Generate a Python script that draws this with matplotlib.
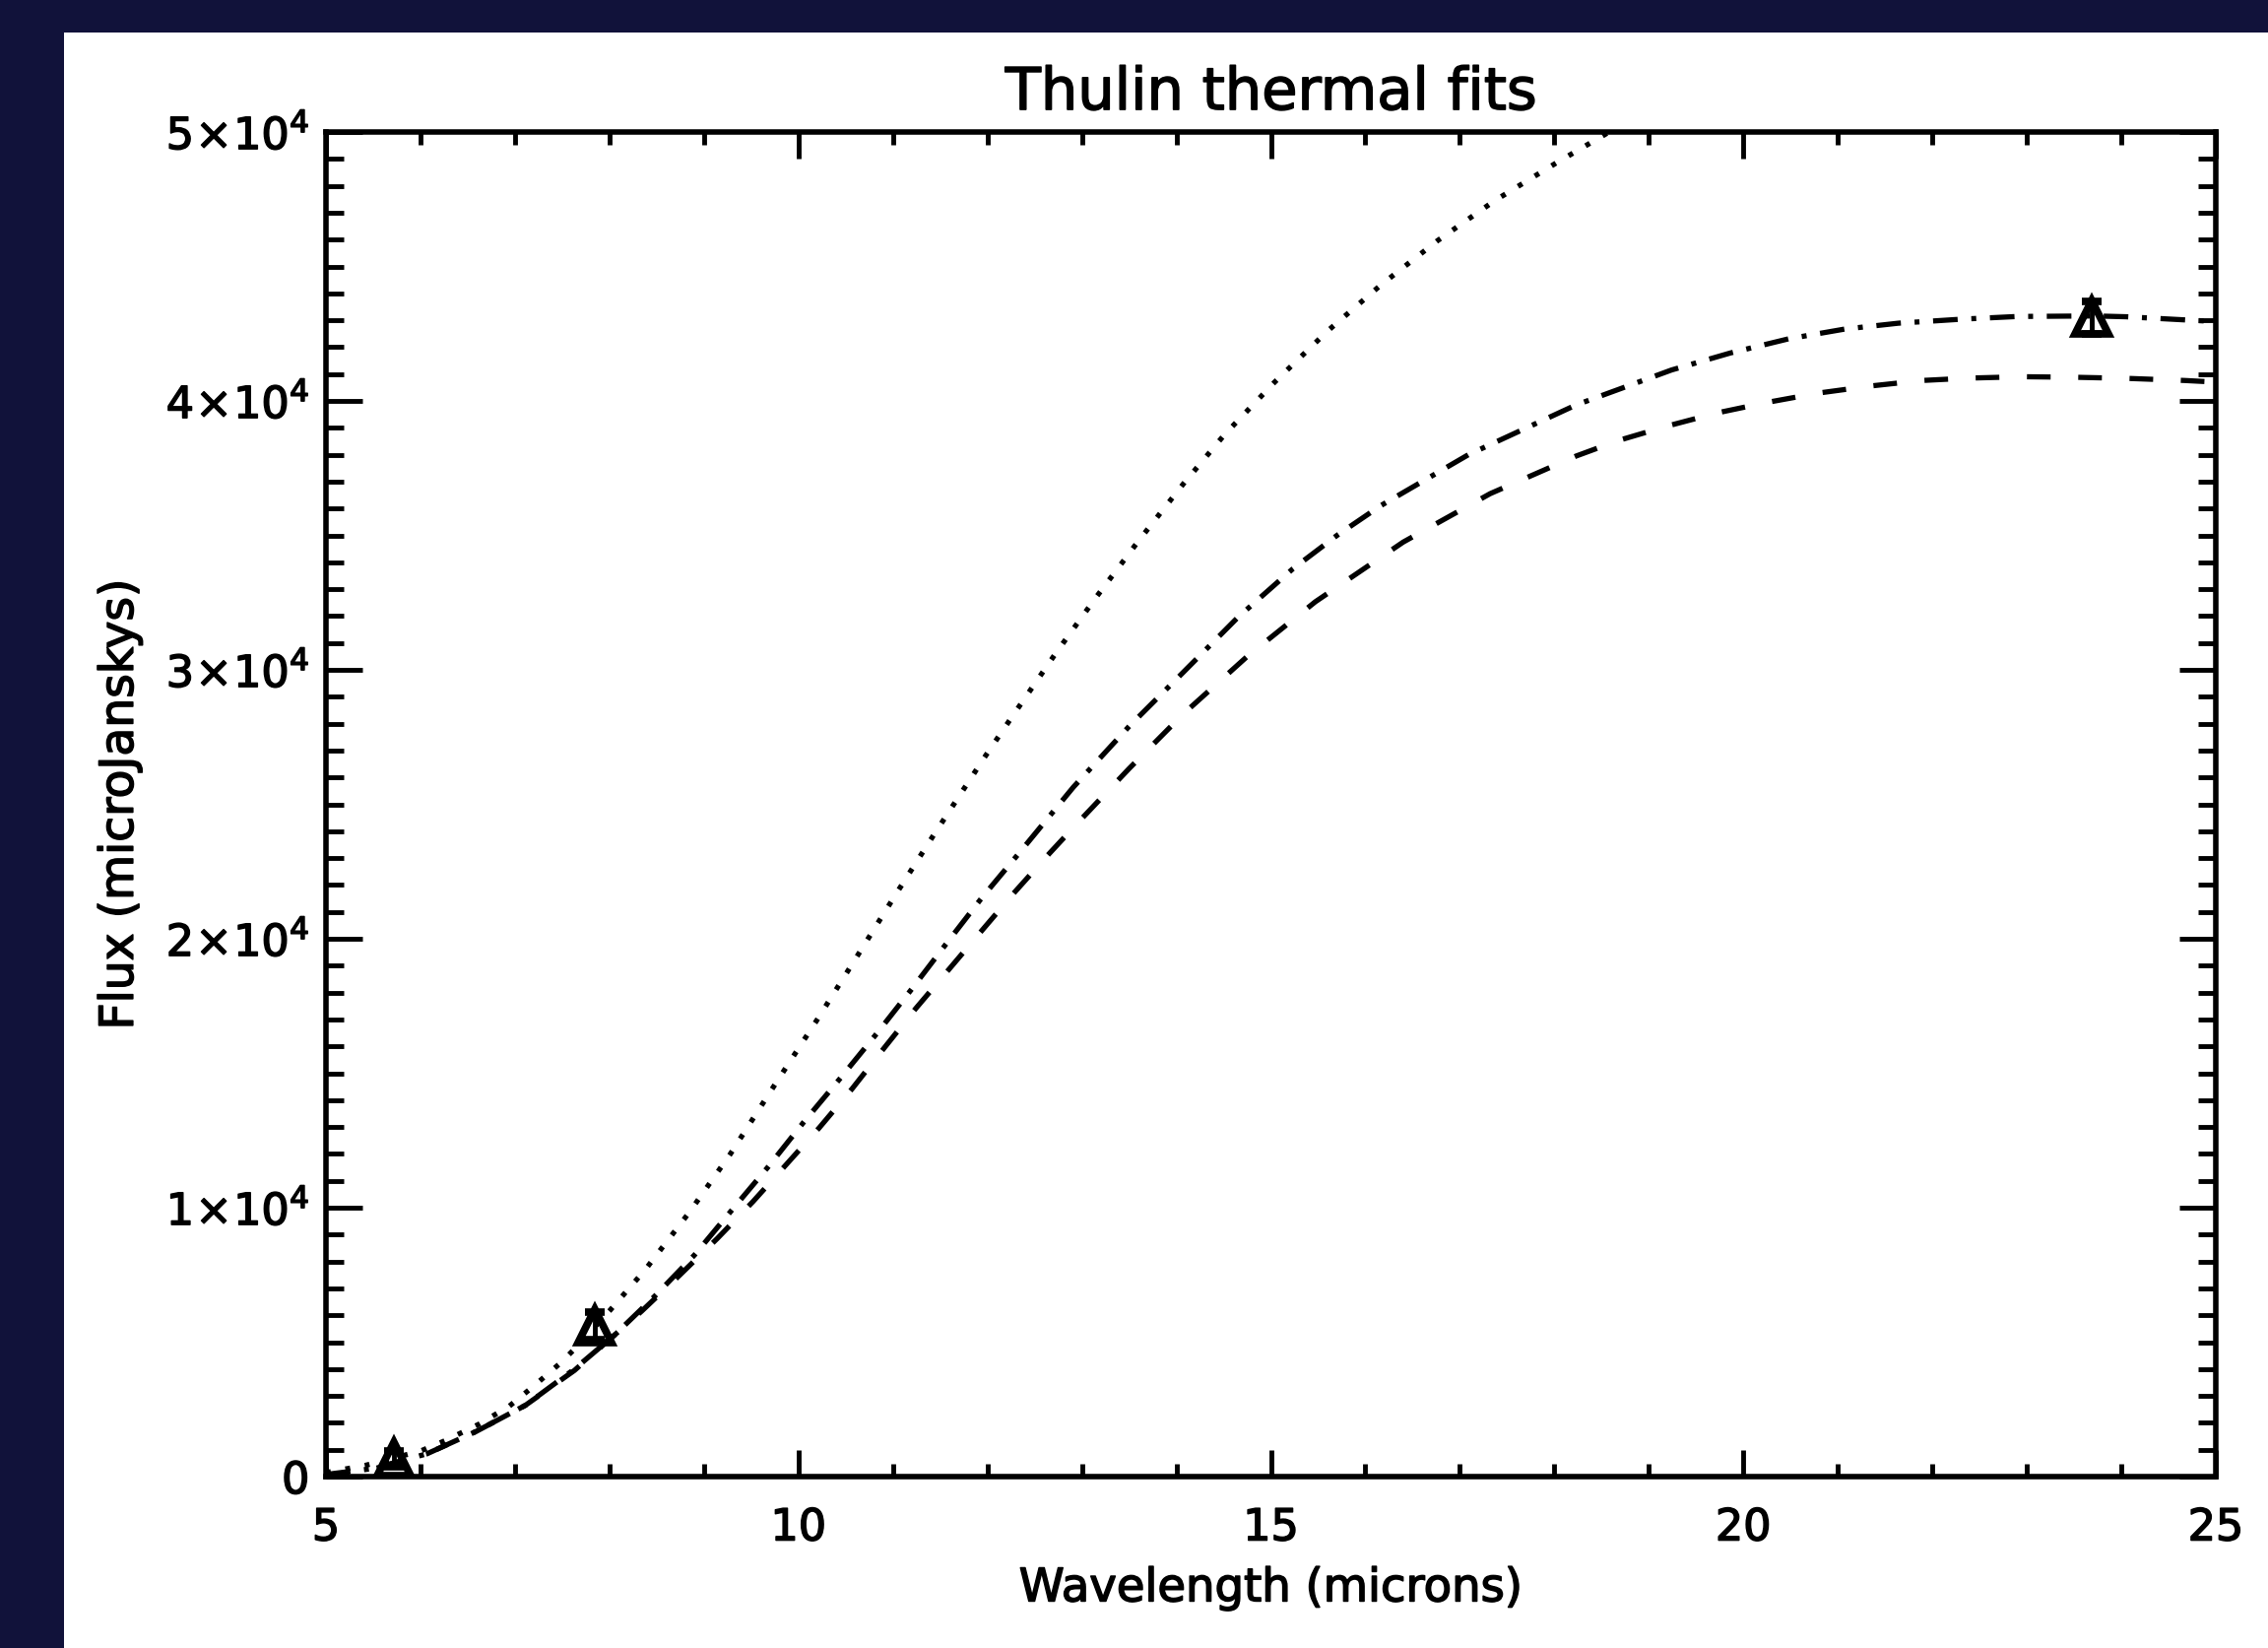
import matplotlib
matplotlib.use("Agg")
import matplotlib.pyplot as plt
import matplotlib.patheffects as pe
from matplotlib.patches import Rectangle
from matplotlib.ticker import MultipleLocator

plt.rcParams['font.family'] = ['DejaVu Sans']
plt.rcParams['mathtext.fontset'] = 'dejavusans'
plt.rcParams['lines.scale_dashes'] = False

# ---------------- data ----------------
title = "Thulin thermal fits"
xlabel = "Wavelength (microns)"
ylabel = "Flux (microJanskys)"

xtick_vals = [5, 10, 15, 20, 25]
xtick_labels = ["5", "10", "15", "20", "25"]
ytick_vals = [0, 10000, 20000, 30000, 40000, 50000]
ytick_labels = ["0", r"$1\!\times\!10^4$", r"$2\!\times\!10^4$", r"$3\!\times\!10^4$",
                r"$4\!\times\!10^4$", r"$5\!\times\!10^4$"]

# dotted fit
dot_x = [5.0, 5.42, 6.0, 6.27, 6.62, 6.94, 7.21, 7.49, 7.66, 8.01, 8.38, 8.85,
         9.28, 9.7, 10.2, 10.63, 11.03, 11.43, 11.97, 12.25, 12.72, 13.14, 13.6,
         14.07, 14.51, 15.04, 15.6, 16.16, 16.76, 17.37, 18.02, 18.58]
dot_y = [150, 420, 950, 1350, 1950, 2620, 3400, 4250, 4850, 6200, 7700, 9850,
         12000, 14300, 17000, 19400, 21650, 23850, 26750, 28200, 30600, 32650, 34800,
         36900, 38750, 40700, 42600, 44300, 45950, 47450, 48850, 50000]

# dash-dot fit
dd_x = [5.0, 5.5, 6.07, 6.59, 7.11, 7.63, 8.05, 8.48, 8.9, 9.3, 9.68, 10.06, 10.44,
        10.83, 11.19, 11.57, 11.94, 12.32, 12.91, 13.5, 14.07, 14.65, 15.23, 15.7,
        16.16, 17.09, 18.23, 19.24, 19.86, 20.48, 21.07, 21.64, 22.31, 22.9, 23.72,
        24.05, 24.85, 25.0]
dd_y = [80, 300, 850, 1680, 2650, 4000, 5250, 6710, 8240, 9930, 11520, 13200, 14800,
        16480, 18090, 19840, 21520, 23120, 25640, 27900, 29900, 31950, 33750, 35000,
        36100, 38000, 39850, 41150, 41780, 42310, 42670, 42890, 43040, 43140, 43160,
        43130, 42980, 42950]

# dashed fit
da_x = [5.0, 5.5, 6.07, 6.59, 7.11, 7.63, 8.01, 8.34, 8.74, 9.14, 9.52, 9.87, 10.22,
        10.57, 10.91, 11.24, 11.59, 11.94, 12.28, 12.65, 12.98, 13.5, 14.07, 14.75,
        15.47, 16.4, 17.32, 18.23, 18.67, 19.2, 19.73, 20.26, 20.79, 21.36, 21.89,
        22.4, 22.95, 23.5, 24.05, 24.67, 25.0]
da_y = [50, 280, 850, 1680, 2650, 3950, 5130, 6150, 7480, 8850, 10230, 11600, 12970,
        14430, 15950, 17400, 18850, 20300, 21700, 23150, 24400, 26330, 28350, 30500,
        32530, 34750, 36550, 37950, 38520, 39070, 39560, 39950, 40290, 40560, 40760,
        40850, 40900, 40880, 40840, 40760, 40700]

# measured points
obs_x = [5.72, 7.85, 23.69]
obs_y = [650, 5600, 43100]
obs_err = [300, 500, 600]

# ---------------- figure ----------------
W, H = 2303, 1674
DPI = 100
NAVY = "#11123A"
fig = plt.figure(figsize=(W / DPI, H / DPI), dpi=DPI, facecolor=NAVY)
fig.patches.append(Rectangle((65 / W, 0), 1 - 65 / W, (H - 34) / H,
                             transform=fig.transFigure, facecolor="white",
                             edgecolor="none", zorder=-10))

ax = fig.add_axes([331 / W, (H - 1500) / H, 1919 / W, 1365 / H])
ax.set_zorder(5)
ax.set_facecolor("white")

lw = 3.8
ax.plot(dot_x, dot_y, color="black", lw=lw, linestyle=(0, (3.6, 10.8)),
        dash_capstyle="butt")
ax.plot(dd_x, dd_y, color="black", lw=lw, linestyle=(0, (18.0, 10.0, 3.6, 10.0)),
        dash_capstyle="butt")
ax.plot(da_x, da_y, color="black", lw=lw, linestyle=(0, (17.3, 20.2)),
        dash_capstyle="butt")

ax.errorbar(obs_x, obs_y, yerr=obs_err, fmt="^", color="black", ecolor="black",
            markersize=25, markeredgewidth=5.5, markerfacecolor="none",
            elinewidth=3.5, capsize=7, capthick=3.5, zorder=5)

ax.set_xlim(5, 25)
ax.set_ylim(0, 50000)

ax.set_xticks(xtick_vals)
ax.set_xticklabels(xtick_labels)
ax.set_yticks(ytick_vals)
ax.set_yticklabels(ytick_labels)
ax.xaxis.set_minor_locator(MultipleLocator(1))
ax.yaxis.set_minor_locator(MultipleLocator(1000))

for s in ax.spines.values():
    s.set_linewidth(4)
    s.set_color("black")

ax.tick_params(axis="x", which="major", direction="in", length=19.5, width=3.5,
               top=True, bottom=True, pad=22, labelsize=32)
ax.tick_params(axis="x", which="minor", direction="in", length=9.5, width=3.5,
               top=True, bottom=True)
ax.tick_params(axis="y", which="major", direction="in", length=26.6, width=3.5,
               left=True, right=True, pad=12, labelsize=32)
ax.tick_params(axis="y", which="minor", direction="in", length=13, width=3.5,
               left=True, right=True)

bold = [pe.withStroke(linewidth=1.1, foreground="black")]
t = ax.set_title(title, fontsize=42.5, pad=16.5)
xl = ax.set_xlabel(xlabel, fontsize=33.5)
yl = ax.set_ylabel(ylabel, fontsize=34)
ax.xaxis.set_label_coords(0.5, -0.067)
ax.yaxis.set_label_coords(-0.097, 0.5)
for txt in [t, xl, yl] + ax.get_xticklabels() + ax.get_yticklabels():
    txt.set_path_effects(bold)

fig.savefig("out.png", dpi=DPI, facecolor=NAVY)
